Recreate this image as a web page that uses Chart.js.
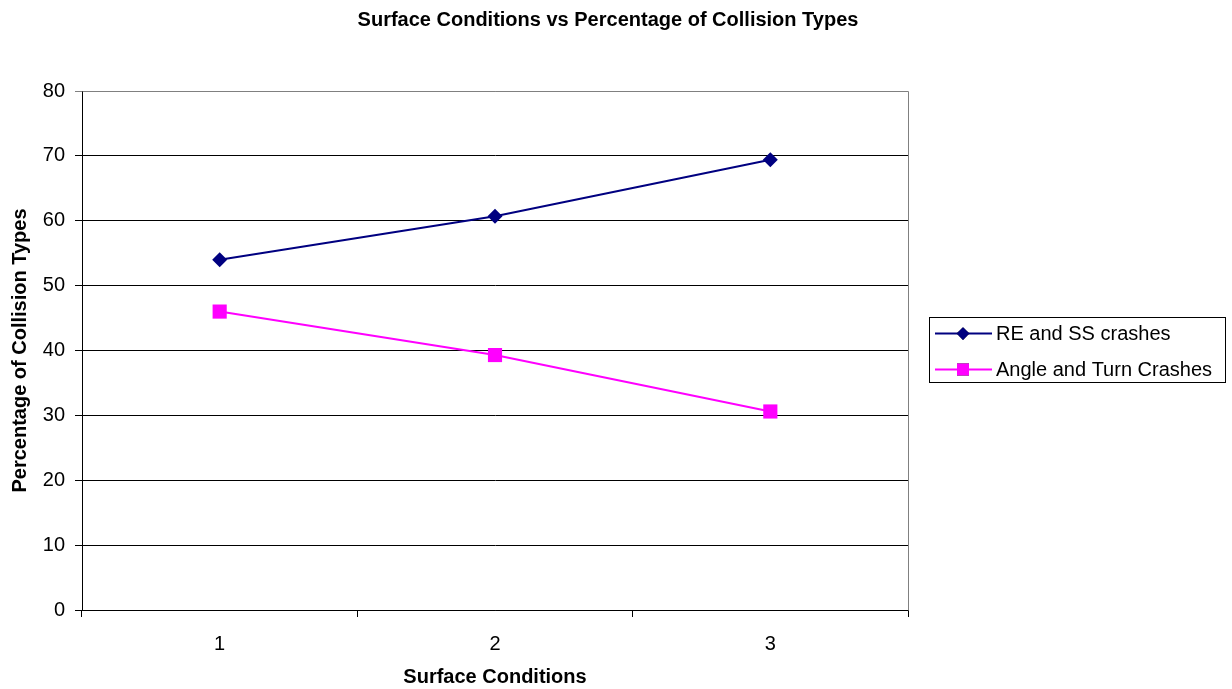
<!DOCTYPE html>
<html>
<head>
<meta charset="utf-8">
<script src="https://cdn.jsdelivr.net/npm/chart.js@4"></script>
<style>
  html, body { margin: 0; padding: 0; background: #fff; }
  #wrap { width: 1232px; height: 689px; }
</style>
</head>
<body>
<div id="wrap"><canvas id="collisionChart" width="1232" height="689"></canvas></div>
<script>
// Surface condition categories and percentage of each collision type
const surfaceConditions = ['1', '2', '3'];
const reAndSsCrashes = [54.0, 60.7, 69.4];
const angleAndTurnCrashes = [46.0, 39.3, 30.6];
const yTicks = [0, 10, 20, 30, 40, 50, 60, 70, 80];
const chartTitle = 'Surface Conditions vs Percentage of Collision Types';

const FONT = "Arial, 'Liberation Sans', sans-serif";

// title centred over the whole canvas (incl. legend column)
const pageTitle = {
    id: 'pageTitle',
    afterDraw(chart) {
        const ctx = chart.ctx;
        ctx.save();
        ctx.font = 'bold 20px ' + FONT;
        ctx.fillStyle = '#000';
        ctx.textAlign = 'center';
        ctx.textBaseline = 'middle';
        ctx.fillText(chartTitle, 608, 20);
        ctx.restore();
    }
};

// gray border on the top and right of the plot area
const plotFrame = {
    id: 'plotFrame',
    beforeDatasetsDraw(chart) {
        const { ctx, chartArea: a } = chart;
        ctx.save();
        ctx.strokeStyle = '#808080';
        ctx.lineWidth = 1;
        ctx.beginPath();
        ctx.moveTo(Math.round(a.left) + 0.5, Math.round(a.top) + 0.5);
        ctx.lineTo(Math.round(a.right) + 0.5, Math.round(a.top) + 0.5);
        ctx.lineTo(Math.round(a.right) + 0.5, Math.round(a.bottom) + 0.5);
        ctx.stroke();
        ctx.restore();
    }
};

// boxed legend with line + marker samples
const boxLegend = {
    id: 'boxLegend',
    afterDraw(chart) {
        const ctx = chart.ctx;
        const box = { x: 929.5, y: 317.5, w: 296, h: 65 };
        ctx.save();
        ctx.strokeStyle = '#000';
        ctx.lineWidth = 1;
        ctx.strokeRect(box.x, box.y, box.w, box.h);
        ctx.font = '20px ' + FONT;
        ctx.textBaseline = 'middle';
        chart.data.datasets.forEach((ds, i) => {
            const cy = 333.5 + i * 36;
            ctx.strokeStyle = ds.borderColor;
            ctx.lineWidth = 2;
            ctx.beginPath();
            ctx.moveTo(935, cy);
            ctx.lineTo(992, cy);
            ctx.stroke();
            Chart.helpers.drawPoint(ctx, {
                pointStyle: ds.pointStyle,
                radius: ds.pointRadius * 0.85,
                borderWidth: 0
            }, 963, cy);
            ctx.fillStyle = ds.pointBackgroundColor;
            ctx.fill();
            ctx.fillStyle = '#000';
            ctx.fillText(ds.label, 996, cy + 1);
        });
        ctx.restore();
    }
};

const ctx = document.getElementById('collisionChart').getContext('2d');
const collisionChart = new Chart(ctx, {
    type: 'line',
    data: {
        labels: surfaceConditions,
        datasets: [{
            label: 'RE and SS crashes',
            data: reAndSsCrashes,
            borderColor: '#000080',
            backgroundColor: '#000080',
            pointBackgroundColor: '#000080',
            pointBorderWidth: 0,
            pointStyle: 'rectRot',
            pointRadius: 7.5,
            borderWidth: 2,
            tension: 0
        }, {
            label: 'Angle and Turn Crashes',
            data: angleAndTurnCrashes,
            borderColor: '#FF00FF',
            backgroundColor: '#FF00FF',
            pointBackgroundColor: '#FF00FF',
            pointBorderWidth: 0,
            pointStyle: 'rect',
            pointRadius: 10,
            borderWidth: 2,
            tension: 0
        }]
    },
    options: {
        responsive: false,
        animation: false,
        layout: { padding: { left: 0, right: 324, top: 91, bottom: 0 } },
        plugins: {
            legend: { display: false },
            tooltip: { enabled: false },
            title: { display: false }
        },
        scales: {
            x: {
                type: 'category',
                offset: true,
                afterFit(scale) { scale.height = 79; },
                grid: {
                    offset: true,
                    drawOnChartArea: false,
                    drawTicks: true,
                    tickLength: 7,
                    color: '#000'
                },
                border: { color: '#000', width: 1 },
                ticks: {
                    color: '#000',
                    font: { family: FONT, size: 20 },
                    padding: 15
                },
                title: {
                    display: true,
                    text: 'Surface Conditions',
                    color: '#000',
                    font: { family: FONT, size: 20, weight: 'bold' },
                    padding: { top: 0, bottom: 0 }
                }
            },
            y: {
                min: 0,
                max: 80,
                afterFit(scale) { scale.width = 82; },
                afterBuildTicks(scale) { scale.ticks = yTicks.map(v => ({ value: v })); },
                grid: {
                    color: c => (c.tick && c.tick.value === 80 ? '#808080' : '#000'),
                    tickLength: 7,
                    lineWidth: 1
                },
                border: { color: '#000', width: 1 },
                ticks: {
                    color: '#000',
                    font: { family: FONT, size: 20 },
                    padding: 10
                },
                title: {
                    display: true,
                    text: 'Percentage of Collision Types',
                    color: '#000',
                    font: { family: FONT, size: 20, weight: 'bold' },
                    padding: { top: 8, bottom: 0 }
                }
            }
        }
    },
    plugins: [plotFrame, boxLegend, pageTitle]
});
</script>
</body>
</html>
